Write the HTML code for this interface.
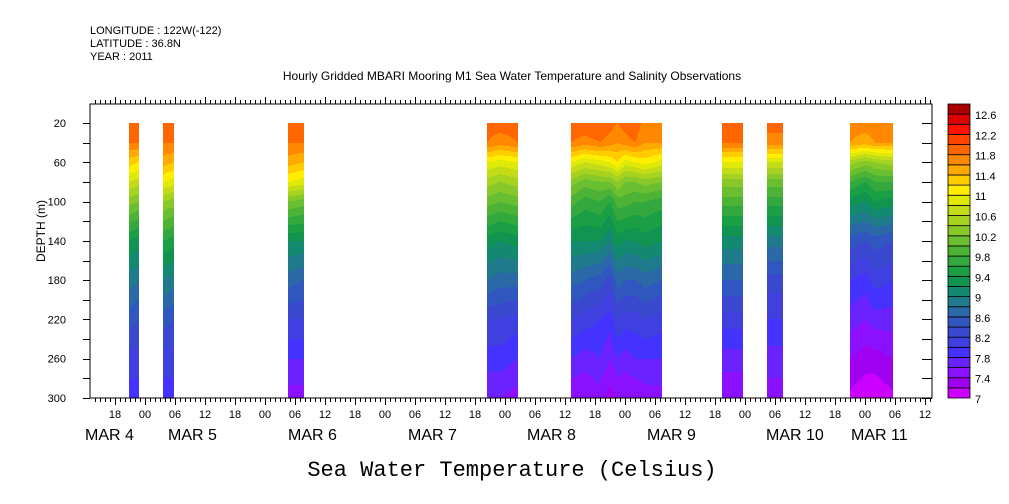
<!DOCTYPE html>
<html><head><meta charset="utf-8">
<style>
body{margin:0;background:#fff;}
svg{display:block;font-family:"Liberation Sans",sans-serif;}
</style></head>
<body>
<svg id="chart" width="1009" height="504" viewBox="0 0 1009 504" xmlns="http://www.w3.org/2000/svg">
<g font-size="11" fill="#000">
<text x="90" y="34">LONGITUDE : 122W(-122)</text>
<text x="90" y="47">LATITUDE : 36.8N</text>
<text x="90" y="60">YEAR : 2011</text>
</g>
<text x="512" y="80" text-anchor="middle" font-size="12">Hourly Gridded MBARI Mooring M1 Sea Water Temperature and Salinity Observations</text>
<g id="fills"></g>
<g id="axes" stroke="#000" stroke-width="1" fill="none"></g>
<g id="labels" font-size="12" fill="#000"></g>
<text x="0" y="0" transform="translate(45,231) rotate(-90)" text-anchor="middle" font-size="12">DEPTH (m)</text>
<text x="512" y="476" text-anchor="middle" font-family="Liberation Mono, monospace" font-size="22">Sea Water Temperature (Celsius)</text>
<g id="cbar"></g>
</svg>
<script>
// ---- data ----
const depths = [20,40,60,80,100,140,180,220,260,300];
const segStart = [-3.2, 3.6, 28.6, 68.4, 85.2, 115.4, 124.4, 141];
const segEnd   = [-1.2, 5.8, 31.8, 74.6, 103.4, 119.6, 127.6, 149.6];
const segTimes = [
 [-3.2,-1.2],[3.6,5.8],[28.6,31.8],[68.4,71,74.6],
 [85.2,88,91,93,94.5,96,98,100,103.4],
 [115.4,119.6],[124.4,127.6],[141,144,146,149.6]
];
const segProfiles = [
 [[11.9,11.8,11.3,10.8,10.3,9.4,8.9,8.5,8.1,7.9],[11.9,11.8,11.2,10.7,10.2,9.3,8.8,8.4,8.1,7.9]],
 [[11.9,11.8,11.5,11.0,10.4,9.6,9.0,8.5,8.1,7.9],[11.9,11.8,11.4,10.9,10.3,9.5,8.9,8.4,8.1,7.9]],
 [[11.9,11.8,11.5,11.0,10.2,9.2,8.7,8.2,7.8,7.5],[11.9,11.8,11.4,10.9,10.1,9.2,8.6,8.2,7.8,7.5]],
 [[11.9,11.8,11.0,10.5,10.1,9.3,8.8,8.2,7.9,7.6],[11.9,11.7,10.9,10.4,10.0,9.2,8.7,8.2,7.9,7.6],[11.9,11.8,11.0,10.5,10.1,9.3,8.7,8.1,7.8,7.5]],
 [[11.95,11.8,11.0,10.3,9.9,9.2,8.7,8.2,7.8,7.4],
  [12.0,11.7,10.8,10.1,9.7,9.2,8.6,8.1,7.7,7.4],
  [11.95,11.8,10.9,10.2,9.8,9.2,8.5,8.0,7.8,7.5],
  [11.9,11.7,11.0,10.2,9.6,9.0,8.3,7.9,7.6,7.3],
  [11.8,11.6,11.2,10.4,9.9,9.3,8.7,8.2,7.8,7.4],
  [11.9,11.7,10.9,10.2,9.9,9.2,8.6,8.1,7.7,7.4],
  [11.95,11.8,11.0,10.2,9.8,9.2,8.6,8.1,7.8,7.4],
  [11.7,11.6,11.1,10.3,9.8,9.3,8.7,8.2,7.8,7.5],
  [11.8,11.6,10.9,10.2,9.7,9.2,8.6,8.1,7.8,7.5]],
 [[11.9,11.8,11.0,10.3,9.9,9.1,8.6,8.1,7.7,7.4],[11.9,11.8,11.0,10.3,9.9,9.1,8.6,8.1,7.7,7.4]],
 [[11.9,11.7,10.8,10.1,9.7,8.9,8.3,8.0,7.7,7.5],[11.9,11.7,10.8,10.1,9.7,8.9,8.3,8.0,7.7,7.5]],
 [[11.7,11.6,10.5,9.8,9.3,8.5,8.0,7.7,7.4,7.15],[11.7,11.5,10.3,9.6,9.2,8.4,7.9,7.6,7.3,7.05],
  [11.7,11.6,10.4,9.8,9.4,8.5,8.1,7.7,7.3,7.05],[11.7,11.6,10.5,9.8,9.3,8.4,8.0,7.7,7.4,7.15]]
];
const levelMin = 7.0, levelStep = 0.2;
const levelColors = ["#cc00ff","#a000f0","#8a10ff","#6a22ff","#4433ff","#4040e0","#3a48d0","#3056c0","#2a68a8","#1f7a8c",
 "#138a70","#109450","#1a9f45","#33a83e","#4db336","#6abf30","#88c828","#a6d220","#c4dc18","#e0ea08",
 "#ffee00","#ffcc00","#ffaa00","#ff8800","#ff6600","#ff4400","#ff1100","#dd0000","#aa0000"];
const cbarLabels = ["7","7.4","7.8","8.2","8.6","9","9.4","9.8","10.2","10.6","11","11.4","11.8","12.2","12.6"];
const depthTicks = [20,60,100,140,180,220,260,300];
const hourLabels = ["18","00","06","12"];
const dayNames = ["MAR  4","MAR  5","MAR  6","MAR  7","MAR  8","MAR  9","MAR 10","MAR 11"];
const dayLabelX = [85,168,288,408,527,647,766,851];

// ---- scales ----
const X0=90, X1=932, Y0=104, Y1=398;
const xS = t => 145 + 5*t;
const yS = d => 123 + (d-20)*(275/280);
const dInv = y => 20 + (y-123)*(280/275);
const tInv = x => (x-145)/5;
const NS="http://www.w3.org/2000/svg";
function mk(tag, attrs, parent){const e=document.createElementNS(NS,tag);for(const k in attrs)e.setAttribute(k,attrs[k]);parent.appendChild(e);return e;}
function interp(xs, ys, v){
  if(v<=xs[0])return ys[0];
  for(let i=1;i<xs.length;i++){ if(v<=xs[i]){const f=(v-xs[i-1])/(xs[i]-xs[i-1]);return ys[i-1]+f*(ys[i]-ys[i-1]);} }
  return ys[ys.length-1];
}
function levelOf(T){let i=Math.floor((T-levelMin)/levelStep);return Math.max(0,Math.min(levelColors.length-1,i));}

// ---- fills ----
const fills=document.getElementById('fills');
for(let s=0;s<segStart.length;s++){
  const xa=Math.round(xS(segStart[s])), xb=Math.round(xS(segEnd[s]));
  const times=segTimes[s], profs=segProfiles[s];
  for(let px=xa;px<xb;px++){
    const t=tInv(px+0.5);
    const prof=depths.map((d,k)=>interp(times, profs.map(p=>p[k]), t));
    const ya=Math.round(yS(20)), yb=Math.round(yS(300));
    let runStart=ya, runLev=null;
    for(let py=ya;py<=yb;py++){
      const lev = py<yb ? levelOf(interp(depths, prof, dInv(py+0.5))) : -1;
      if(lev!==runLev){
        if(runLev!==null && runLev>=0){
          const r=mk('rect',{x:px,y:runStart,width:1,height:py-runStart,fill:levelColors[runLev]},fills);
          
          
        }
        runStart=py; runLev=lev;
      }
    }
  }
}

// ---- axes ----
const ax=document.getElementById('axes'), lb=document.getElementById('labels');
const frame=mk('rect',{x:X0,y:Y0,width:X1-X0,height:Y1-Y0},ax);


for(let h=-10;h<=157;h++){
  const x=xS(h)+0.5; const major=(h%6===0); const len=major?7:4;
  mk('line',{x1:x,y1:Y0,x2:x,y2:Y0-len},ax);
  mk('line',{x1:x,y1:Y1,x2:x,y2:Y1+len},ax);
}
for(let h=-6;h<=156;h+=6){
  const t=mk('text',{x:xS(h),y:418,'text-anchor':'middle','font-size':'11'},lb);
  t.textContent=hourLabels[((h/6)%4+4+1)%4];
  
  
}
for(let i=0;i<dayNames.length;i++){
  const t=mk('text',{x:dayLabelX[i],y:440,'font-size':'16','xml:space':'preserve'},lb);
  t.textContent=dayNames[i];
  
  
}
for(let d=20;d<=300;d+=20){
  const y=Math.round(yS(d))+0.5;
  mk('line',{x1:X0,y1:y,x2:X0-7,y2:y},ax);
  mk('line',{x1:X1,y1:y,x2:X1-10,y2:y},ax);
}
depthTicks.forEach(d=>{
  const t=mk('text',{x:66,y:yS(d)+4,'text-anchor':'end','font-size':'11'},lb);
  t.textContent=String(d);
  
  
});

// ---- colorbar ----
const cb=document.getElementById('cbar');
const cbTop=104, cbBot=398, n=levelColors.length, bh=(cbBot-cbTop)/n;
levelColors.forEach((c,i)=>{
  const r=mk('rect',{x:948,y:cbBot-(i+1)*bh,width:22,height:bh,fill:c,stroke:'#000','stroke-width':'0.8'},cb);
  
  
});
cbarLabels.forEach((s,i)=>{
  const t=mk('text',{x:975,y:cbBot-i*2*bh+5,'font-size':'11'},cb);
  t.textContent=s;
  
  
});
</script>
</body></html>
